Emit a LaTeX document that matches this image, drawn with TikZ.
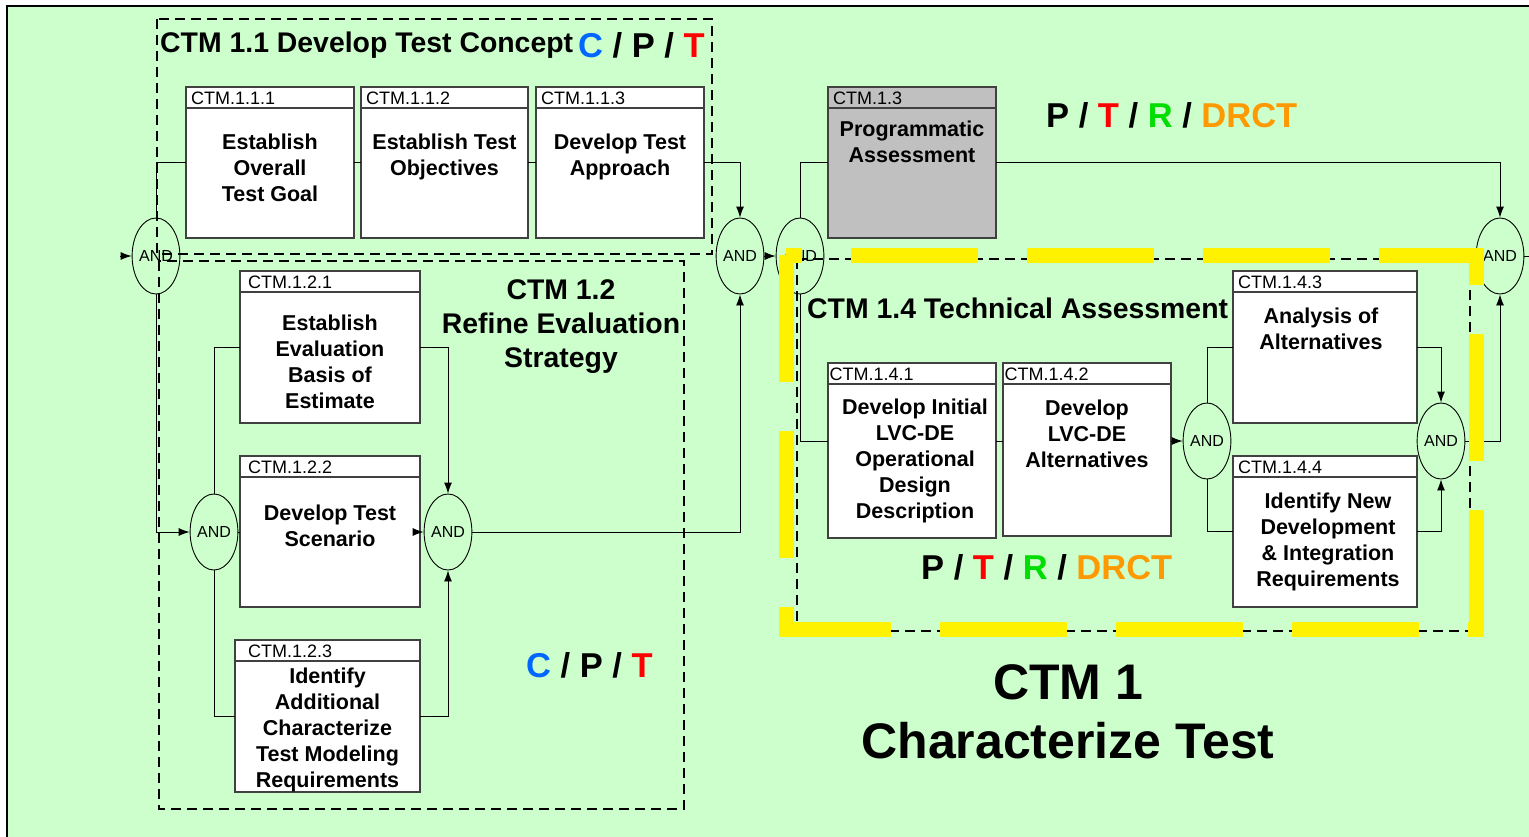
\documentclass[tikz,border=0pt]{standalone}
\usepackage{fontspec}
\setmainfont{Liberation Sans}
\usetikzlibrary{positioning,arrows.meta,shapes.geometric}
\definecolor{bgmint}{HTML}{CCFFCC}
\definecolor{boxgray}{HTML}{C0C0C0}
\definecolor{capblue}{HTML}{0066FF}
\definecolor{capgreen}{HTML}{00DD00}
\definecolor{caporange}{HTML}{FF9900}

\begin{document}
\begin{tikzpicture}[x=1pt, y=-1pt,
  task/.style={draw=black!75, line width=1.1pt, fill=white, anchor=north west, inner sep=0pt, outer sep=0pt,
    path picture={\draw[black!75, line width=1.1pt] ([yshift=-21pt]path picture bounding box.north west) -- ([yshift=-21pt]path picture bounding box.north east);}},
  taskid/.style={anchor=north west, inner sep=0pt, xshift=5pt, yshift=-4.5pt, font=\fontsize{18}{20}\selectfont},
  taskbody/.style={anchor=north, inner sep=0pt, align=center, font=\bfseries\fontsize{21.5}{26}\selectfont},
  gate/.style={draw, ellipse, line width=0.9pt, minimum width=45pt, minimum height=76pt, inner sep=0pt, font=\fontsize{16}{18}\selectfont},
  link/.style={line width=0.9pt},
  flow/.style={link, -{Latex[length=11pt, width=8pt]}},
  group/.style={draw, line width=1.1pt, dash pattern=on 10pt off 6pt},
  heading/.style={inner sep=0pt, font=\bfseries\fontsize{28.4}{34}\selectfont},
  roles/.style={inner sep=0pt, font=\bfseries\fontsize{34.5}{40}\selectfont},
  hilite/.style={yellow, line width=15pt, dash pattern=on 127pt off 49pt}]
\useasboundingbox (0,0) rectangle (1529,836);
\clip (0,0) rectangle (1529,836);
\fill[white] (0,0) rectangle (1529,836);
\fill[bgmint] (7,6) rectangle (1540,850);
\draw[line width=2pt] (7,850) -- (7,6) -- (1540,6);

% groups
\draw[group] (157,19) rectangle (712,254);
\draw[group] (159,261) rectangle (684,809);
\draw[group] (797,259) rectangle (1470,631);

% tasks
\node[task, minimum width=168pt, minimum height=151pt,
  label={[taskid]north west:CTM.1.1.1},
  label={[taskbody, yshift=-46.5pt]north:{Establish\\Overall\\Test Goal}}] (t111) at (186,87) {};
\node[task, minimum width=167pt, minimum height=151pt,
  label={[taskid]north west:CTM.1.1.2},
  label={[taskbody, yshift=-46.5pt]north:{Establish Test\\Objectives}}] (t112) at (361,87) {};
\node[task, minimum width=168pt, minimum height=151pt,
  label={[taskid]north west:CTM.1.1.3},
  label={[taskbody, yshift=-46.5pt]north:{Develop Test\\Approach}}] (t113) at (536,87) {};
\node[task, fill=boxgray, minimum width=168pt, minimum height=151pt,
  label={[taskid]north west:CTM.1.3},
  label={[taskbody, yshift=-33.5pt]north:{Programmatic\\Assessment}}] (t13) at (828,87) {};
\node[task, minimum width=180pt, minimum height=152pt,
  label={[taskid, xshift=3pt]north west:CTM.1.2.1},
  label={[taskbody, yshift=-43.5pt]north:{Establish\\Evaluation\\Basis of\\Estimate}}] (t121) at (240,271) {};
\node[task, minimum width=180pt, minimum height=151pt,
  label={[taskid, xshift=3pt]north west:CTM.1.2.2},
  label={[taskbody, yshift=-48.5pt]north:{Develop Test\\Scenario}}] (t122) at (240,456) {};
\node[task, minimum width=185pt, minimum height=152pt,
  label={[taskid, xshift=8pt]north west:CTM.1.2.3},
  label={[taskbody, yshift=-27.5pt]north:{Identify\\Additional\\Characterize\\Test Modeling\\Requirements}}] (t123) at (235,640) {};
\node[task, minimum width=168pt, minimum height=175pt,
  label={[taskid, xshift=-3.5pt]north west:CTM.1.4.1},
  label={[taskbody, xshift=3pt, yshift=-35.5pt]north:{Develop Initial\\LVC-DE\\Operational\\Design\\Description}}] (t141) at (828,363) {};
\node[task, minimum width=168pt, minimum height=173pt,
  label={[taskid, xshift=-3.5pt]north west:CTM.1.4.2},
  label={[taskbody, yshift=-36.5pt]north:{Develop\\LVC-DE\\Alternatives}}] (t142) at (1003,363) {};
\node[task, minimum width=184pt, minimum height=152pt,
  label={[taskid]north west:CTM.1.4.3},
  label={[taskbody, xshift=-4pt, yshift=-36.5pt]north:{Analysis of\\Alternatives}}] (t143) at (1233,271) {};
\node[task, minimum width=184pt, minimum height=151pt,
  label={[taskid]north west:CTM.1.4.4},
  label={[taskbody, xshift=3pt, yshift=-36.5pt]north:{Identify New\\Development\\\& Integration\\Requirements}}] (t144) at (1233,456) {};

% junctions
\node[gate] (a0) at (156,256) {AND};
\node[gate] (a1) at (740,256) {AND};
\node[gate] (a4) at (800,256) {AND};
\node[gate] (a6) at (1500,256) {AND};
\node[gate] (a2) at (214,532) {AND};
\node[gate] (a3) at (448,532) {AND};
\node[gate] (a5) at (1207,441) {AND};
\node[gate] (a7) at (1441,441) {AND};
\coordinate (in) at (120,256);
\coordinate (out) at (1529,256);

% connectors
\draw[flow] (in) -- (a0);
\draw[link] (a0.north) |- (t111.west);
\draw[link] (t111) -- (t112);
\draw[link] (t112) -- (t113);
\draw[flow] (t113.east) -| (a1.north);
\draw[flow] (a0.south) |- (a2.west);
\draw[link] (a2.north) |- (t121.west);
\draw[link] (a2.east) -- (a2.east -| t122.west);
\draw[link] (a2.south) |- (t123.west);
\draw[flow] (t121.east) -| (a3.north);
\draw[flow] (t122.east |- a3) -- (a3.west);
\draw[flow] (t123.east) -| (a3.south);
\draw[flow] (a3.east) -| (a1.south);
\draw[flow] (a1) -- (a4);
\draw[link] (a4.north) |- (t13.west);
\draw[flow] (t13.east) -| (a6.north);
\draw[link] (a4.south) |- (t141.west |- a5);
\draw[link] (t141.east |- a5) -- (t142.west |- a5);
\draw[flow] (t142.east |- a5) -- (a5.west);
\draw[link] (a5.north) |- (t143.west);
\draw[link] (a5.south) |- (t144.west);
\draw[flow] (t143.east) -| (a7.north);
\draw[flow] (t144.east) -| (a7.south);
\draw[flow] (a7.east) -| (a6.south);
\draw[link] (a6.east) -- (out);

% headings
\node[heading, anchor=base west] (h11) at (160,52) {CTM 1.1 Develop Test Concept};
\node[roles, anchor=base west] (r11) at (578,57) {\textcolor{capblue}{C} / P / \textcolor{red}{T}};
\node[heading, align=center] (h12) at (561,327) {CTM 1.2\\Refine Evaluation\\Strategy};
\node[roles, anchor=base west] (r12) at (526,677) {\textcolor{capblue}{C} / P / \textcolor{red}{T}};
\node[roles, anchor=base west] (r13) at (1046,127) {P / \textcolor{red}{T} / \textcolor{capgreen}{R} / \textcolor{caporange}{DRCT}};
\node[heading, anchor=base west] (h14) at (807,318) {CTM 1.4 Technical Assessment};
\node[roles, anchor=base west] (r14) at (921,579) {P / \textcolor{red}{T} / \textcolor{capgreen}{R} / \textcolor{caporange}{DRCT}};
\node[inner sep=0pt, align=center, font=\bfseries\fontsize{50}{59}\selectfont] (title) at (1068,712) {CTM 1\\Characterize Test};

% highlight of the technical assessment
\draw[hilite] (786,255) -- (786,629) -- (1476,629) -- (1476,255) -- cycle;
\end{tikzpicture}
\end{document}
